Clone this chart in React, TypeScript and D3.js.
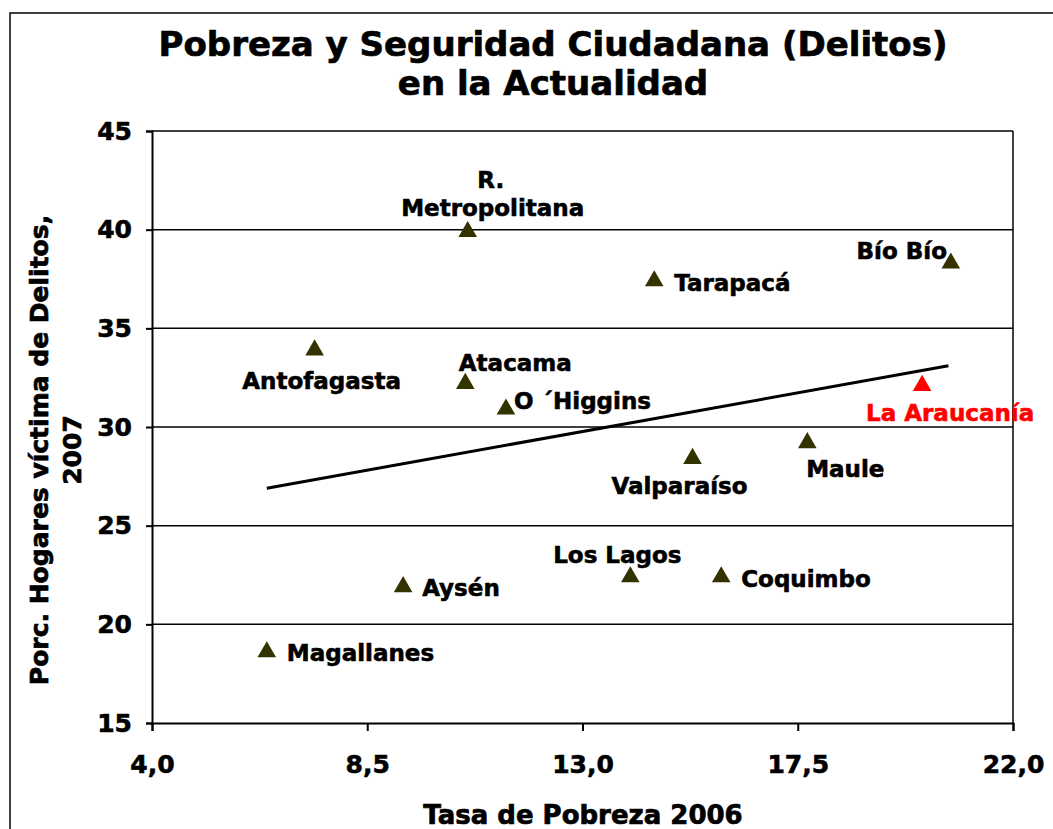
import * as d3 from "d3";
import { useEffect, useRef } from "react";

const regions = [
  "Magallanes", "Aysén", "Antofagasta", "R. Metropolitana", "Atacama", "O ´Higgins",
  "Tarapacá", "Los Lagos", "Coquimbo", "Valparaíso", "Maule", "La Araucanía", "Bío Bío",
];
const pobreza = [6.4, 9.25, 7.4, 10.6, 10.55, 11.4, 14.5, 14.0, 15.9, 15.3, 17.7, 20.1, 20.7];
const delitos = [18.6, 21.9, 33.9, 39.9, 32.2, 30.9, 37.4, 22.4, 22.4, 28.4, 29.2, 32.1, 38.3];

const trendX = [6.4, 20.65];
const trendY = [26.9, 33.1];

const xTicks = [4.0, 8.5, 13.0, 17.5, 22.0];
const yTicks = [15, 20, 25, 30, 35, 40, 45];

const highlight = "La Araucanía";

// label placement: dx, dy from point (px), anchor
const labelPos: Record<string, [number, number, string]> = {
  "Magallanes": [20, 1, "start"],
  "Aysén": [19, 1, "start"],
  "Antofagasta": [7, 31, "middle"],
  "R. Metropolitana": [25, -24, "middle"],
  "Atacama": [50, -21, "middle"],
  "O ´Higgins": [8, -8, "start"],
  "Tarapacá": [20, 2, "start"],
  "Los Lagos": [-13, -22, "middle"],
  "Coquimbo": [20, 2, "start"],
  "Valparaíso": [-13, 27, "middle"],
  "Maule": [38, 26, "middle"],
  "La Araucanía": [28, 27, "middle"],
  "Bío Bío": [-49, -12, "middle"],
};

export default function App() {
  const ref = useRef<SVGSVGElement | null>(null);

  useEffect(() => {
    const W = 1053, H = 829;
    const svg = d3.select(ref.current).attr("width", W).attr("height", H).html("");
    const font = "'DejaVu Sans', Verdana, sans-serif";

    svg.append("rect").attr("x", 0).attr("y", 0).attr("width", W).attr("height", H).attr("fill", "#fff");
    svg.append("rect").attr("x", 10).attr("y", 13).attr("width", W + 20).attr("height", H + 20)
      .attr("fill", "none").attr("stroke", "#000").attr("stroke-width", 1.5);

    const x = d3.scaleLinear().domain([4, 22]).range([152, 1013]);
    const y = d3.scaleLinear().domain([15, 45]).range([723, 131]);

    // gridlines
    svg.append("g").selectAll("line").data(yTicks.slice(1)).enter().append("line")
      .attr("x1", x(4)).attr("x2", x(22)).attr("y1", d => y(d)).attr("y2", d => y(d))
      .attr("stroke", "#000").attr("stroke-width", 1.5);
    svg.append("line").attr("x1", x(22)).attr("x2", x(22)).attr("y1", y(45)).attr("y2", y(15))
      .attr("stroke", "#000").attr("stroke-width", 1.5);

    // axes
    const yAxis = svg.append("g").attr("transform", `translate(${x(4)},0)`)
      .call(d3.axisLeft(y).tickValues(yTicks).tickSize(6).tickPadding(14).tickFormat(d3.format("d")));
    const xAxis = svg.append("g").attr("transform", `translate(0,${y(15)})`)
      .call(d3.axisBottom(x).tickValues(xTicks).tickSize(8).tickPadding(24)
        .tickFormat(d => d3.format(".1f")(d as number).replace(".", ",")));
    [yAxis, xAxis].forEach(a => {
      a.select(".domain").attr("stroke-width", 2);
      a.selectAll(".tick line").attr("stroke-width", 2);
      a.selectAll("text").attr("font-family", font).attr("font-weight", "bold")
        .attr("font-size", 25).attr("fill", "#000")
        .attr("stroke", "#000").attr("stroke-width", 0.6);
    });

    // trend line
    svg.append("path")
      .datum(trendX.map((v, i) => [v, trendY[i]] as [number, number]))
      .attr("d", d3.line<[number, number]>().x(d => x(d[0])).y(d => y(d[1])))
      .attr("stroke", "#000").attr("stroke-width", 3).attr("fill", "none");

    // points
    const tri = d3.symbol().type(d3.symbolTriangle).size(150);
    const pts = regions.map((r, i) => ({ r, px: pobreza[i], dl: delitos[i] }));
    svg.append("g").selectAll("path").data(pts).enter().append("path")
      .attr("d", tri)
      .attr("transform", d => `translate(${x(d.px)},${y(d.dl)})`)
      .attr("fill", d => d.r === highlight ? "#ff0000" : "#333300");

    // labels
    const lg = svg.append("g").attr("font-family", font).attr("font-weight", "bold").attr("font-size", 23);
    pts.forEach(d => {
      const [dx, dy, anchor] = labelPos[d.r];
      const col = d.r === highlight ? "#ff0000" : "#000";
      const t = lg.append("text")
        .attr("x", x(d.px) + dx).attr("y", y(d.dl) + dy)
        .attr("dy", "0.35em")
        .attr("text-anchor", anchor)
        .attr("fill", col).attr("stroke", col).attr("stroke-width", 0.6);
      if (d.r === "R. Metropolitana") {
        t.attr("dy", null);
        t.append("tspan").attr("x", x(d.px) + dx - 2).attr("dy", "-0.85em").text("R.");
        t.append("tspan").attr("x", x(d.px) + dx).attr("dy", "1.2em").text("Metropolitana");
      } else {
        t.text(d.r);
      }
    });

    // titles
    const tg = svg.append("g").attr("font-family", font).attr("font-weight", "bold")
      .attr("fill", "#000").attr("stroke", "#000").attr("stroke-width", 0.7);
    tg.append("text").attr("x", 553).attr("y", 56).attr("text-anchor", "middle").attr("font-size", 34)
      .text("Pobreza y Seguridad Ciudadana (Delitos)");
    tg.append("text").attr("x", 553).attr("y", 95).attr("text-anchor", "middle").attr("font-size", 34)
      .text("en la Actualidad");
    tg.append("text").attr("x", 583).attr("y", 824).attr("text-anchor", "middle").attr("font-size", 26)
      .text("Tasa de Pobreza 2006");
    const yt = tg.append("text").attr("transform", "translate(55,450) rotate(-90)")
      .attr("text-anchor", "middle").attr("font-size", 25);
    yt.append("tspan").attr("x", 0).attr("dy", "-0.3em").text("Porc. Hogares víctima de Delitos,");
    yt.append("tspan").attr("x", 0).attr("dy", "1.35em").text("2007");
  }, []);

  return <svg ref={ref} style={{ position: "absolute", left: 0, top: 0 }}></svg>;
}
